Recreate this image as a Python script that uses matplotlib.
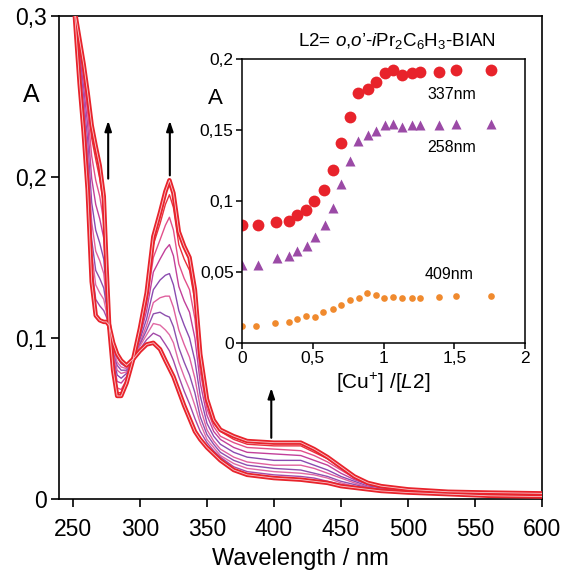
import matplotlib
matplotlib.use("Agg")
import matplotlib.pyplot as plt

plt.rcParams['font.family'] = ['Liberation Sans', 'DejaVu Sans']
plt.rcParams['mathtext.fontset'] = 'custom'
plt.rcParams['mathtext.rm'] = 'Liberation Sans'
plt.rcParams['mathtext.it'] = 'Liberation Sans:italic'

# ---------------- main spectra data ----------------
wl = [251, 255, 258, 261, 264, 267, 270, 273, 275, 277, 280, 283, 286, 290, 295,
      300, 305, 310, 315, 319, 322, 325, 329, 333, 337, 341, 345, 350, 355, 360,
      370, 380, 400, 420, 430, 440, 450, 460, 470, 480, 500, 530, 560, 600]

spec_initial = [0.305, 0.258, 0.228, 0.192, 0.135, 0.114, 0.111, 0.110, 0.110, 0.108, 0.097, 0.090, 0.086, 0.083, 0.087,
                0.092, 0.096, 0.097, 0.093, 0.086, 0.081, 0.076, 0.067, 0.058, 0.050, 0.042, 0.037, 0.032, 0.028, 0.024,
                0.018, 0.015, 0.013, 0.012, 0.011, 0.010, 0.008, 0.007, 0.006, 0.005, 0.004, 0.003, 0.002, 0.0015]

spec_final = [0.305, 0.285, 0.270, 0.252, 0.232, 0.219, 0.207, 0.188, 0.145, 0.108, 0.080, 0.064, 0.064, 0.072, 0.087,
              0.106, 0.128, 0.163, 0.178, 0.191, 0.198, 0.190, 0.166, 0.157, 0.150, 0.130, 0.090, 0.062, 0.049, 0.043,
              0.039, 0.036, 0.035, 0.035, 0.031, 0.026, 0.020, 0.014, 0.010, 0.008, 0.006, 0.0045, 0.004, 0.0035]

spec_a = [0.305, 0.283, 0.267, 0.247, 0.224, 0.211, 0.199, 0.182, 0.142, 0.108, 0.081, 0.066, 0.066, 0.073, 0.087,
          0.105, 0.125, 0.158, 0.171, 0.183, 0.189, 0.181, 0.158, 0.149, 0.142, 0.123, 0.086, 0.060, 0.047, 0.042,
          0.037, 0.034, 0.033, 0.033, 0.029, 0.025, 0.019, 0.013, 0.010, 0.008, 0.006, 0.004, 0.004, 0.003]

spec_b = [0.305, 0.280, 0.262, 0.240, 0.213, 0.198, 0.188, 0.172, 0.138, 0.108, 0.083, 0.069, 0.068, 0.074, 0.087,
          0.103, 0.122, 0.150, 0.161, 0.170, 0.175, 0.167, 0.146, 0.137, 0.130, 0.112, 0.079, 0.056, 0.045, 0.039,
          0.035, 0.032, 0.031, 0.030, 0.027, 0.023, 0.018, 0.013, 0.009, 0.007, 0.006, 0.004, 0.0036, 0.0031]

spec_c = [0.305, 0.276, 0.256, 0.232, 0.199, 0.183, 0.174, 0.162, 0.133, 0.108, 0.086, 0.073, 0.072, 0.076, 0.087,
          0.101, 0.117, 0.141, 0.149, 0.155, 0.158, 0.151, 0.132, 0.123, 0.116, 0.100, 0.072, 0.052, 0.042, 0.037,
          0.032, 0.029, 0.028, 0.027, 0.024, 0.021, 0.016, 0.012, 0.009, 0.007, 0.005, 0.004, 0.0033, 0.0028]

spec_d = [0.305, 0.272, 0.249, 0.222, 0.184, 0.167, 0.159, 0.149, 0.128, 0.108, 0.089, 0.077, 0.075, 0.078, 0.087,
          0.099, 0.112, 0.130, 0.136, 0.139, 0.140, 0.133, 0.117, 0.108, 0.100, 0.086, 0.064, 0.047, 0.039, 0.034,
          0.029, 0.026, 0.024, 0.024, 0.021, 0.018, 0.014, 0.011, 0.008, 0.007, 0.005, 0.004, 0.003, 0.0025]

spec_e = [0.305, 0.268, 0.244, 0.215, 0.172, 0.154, 0.148, 0.140, 0.123, 0.108, 0.091, 0.080, 0.078, 0.079, 0.087,
          0.097, 0.108, 0.122, 0.125, 0.126, 0.126, 0.119, 0.105, 0.096, 0.088, 0.075, 0.057, 0.043, 0.036, 0.031,
          0.026, 0.023, 0.021, 0.021, 0.019, 0.016, 0.013, 0.010, 0.0075, 0.006, 0.005, 0.0036, 0.0028, 0.0023]

spec_f = [0.305, 0.265, 0.239, 0.208, 0.161, 0.142, 0.137, 0.131, 0.120, 0.108, 0.092, 0.083, 0.080, 0.080, 0.087,
          0.096, 0.105, 0.115, 0.116, 0.114, 0.113, 0.107, 0.094, 0.085, 0.077, 0.066, 0.051, 0.040, 0.034, 0.029,
          0.024, 0.021, 0.019, 0.018, 0.016, 0.014, 0.011, 0.009, 0.007, 0.006, 0.0045, 0.0034, 0.0025, 0.002]

spec_g = [0.305, 0.263, 0.236, 0.203, 0.153, 0.133, 0.128, 0.124, 0.116, 0.108, 0.094, 0.085, 0.082, 0.081, 0.087,
          0.095, 0.102, 0.109, 0.108, 0.105, 0.102, 0.097, 0.085, 0.076, 0.068, 0.058, 0.047, 0.037, 0.032, 0.027,
          0.022, 0.019, 0.017, 0.016, 0.015, 0.013, 0.010, 0.008, 0.0067, 0.0055, 0.0044, 0.0033, 0.0024, 0.0019]

spec_h = [0.305, 0.260, 0.232, 0.197, 0.144, 0.124, 0.120, 0.117, 0.113, 0.108, 0.096, 0.088, 0.084, 0.082, 0.087,
          0.093, 0.099, 0.103, 0.101, 0.096, 0.092, 0.086, 0.076, 0.067, 0.059, 0.050, 0.042, 0.035, 0.030, 0.026,
          0.020, 0.017, 0.015, 0.014, 0.013, 0.011, 0.009, 0.0076, 0.0064, 0.0053, 0.0042, 0.0031, 0.0022, 0.0017]

mid_spectra = [spec_a, spec_b, spec_c, spec_d, spec_e, spec_f, spec_g, spec_h]
mid_colors = ['#e8303e', '#e2508a', '#c2409a', '#8a4cb0', '#df5f9e', '#8d50ae', '#e06aa4', '#a24aa8']

# ---------------- inset data ----------------
ratio_337 = [0, 0.11, 0.24, 0.33, 0.39, 0.45, 0.51, 0.58, 0.64, 0.70, 0.76, 0.82, 0.89, 0.95,
             1.01, 1.07, 1.13, 1.20, 1.26, 1.39, 1.51, 1.76]
abs_337 = [0.083, 0.083, 0.085, 0.086, 0.090, 0.094, 0.100, 0.108, 0.122, 0.141, 0.159, 0.176, 0.179, 0.184,
           0.190, 0.192, 0.189, 0.190, 0.191, 0.191, 0.192, 0.192]

ratio_258 = [0, 0.11, 0.245, 0.33, 0.39, 0.46, 0.515, 0.59, 0.64, 0.70, 0.76, 0.82, 0.89, 0.95,
             1.01, 1.07, 1.13, 1.20, 1.26, 1.39, 1.51, 1.76]
abs_258 = [0.055, 0.055, 0.060, 0.061, 0.065, 0.068, 0.075, 0.083, 0.095, 0.112, 0.128, 0.1425, 0.1465, 0.149,
           0.1535, 0.154, 0.152, 0.1535, 0.1535, 0.1535, 0.154, 0.154]

ratio_409 = [0, 0.10, 0.23, 0.33, 0.39, 0.45, 0.515, 0.575, 0.64, 0.70, 0.76, 0.83, 0.88, 0.95,
             1.005, 1.07, 1.13, 1.20, 1.26, 1.39, 1.51, 1.76]
abs_409 = [0.012, 0.012, 0.014, 0.015, 0.017, 0.019, 0.018, 0.0216, 0.024, 0.027, 0.030, 0.032, 0.035, 0.034,
           0.032, 0.0326, 0.032, 0.032, 0.032, 0.0326, 0.033, 0.033]

main_xticks = [250, 300, 350, 400, 450, 500, 550, 600]
main_yticks = [0, 0.1, 0.2, 0.3]
main_ylabels = ['0', '0,1', '0,2', '0,3']
inset_xticks = [0, 0.5, 1, 1.5, 2]
inset_xlabels = ['0', '0,5', '1', '1,5', '2']
inset_yticks = [0, 0.05, 0.1, 0.15, 0.2]
inset_ylabels = ['0', '0,05', '0,1', '0,15', '0,2']

RED = '#e8232b'

fig = plt.figure(figsize=(5.62, 5.71), dpi=100)
ax = fig.add_axes([59/562, 1-499/571, 483/562, 483/571])

for s, c in zip(mid_spectra, mid_colors):
    ax.plot(wl, s, color=c, lw=1.0, zorder=2)
for s in (spec_initial, spec_final):
    ax.plot(wl, s, color=RED, lw=3.2, zorder=3, solid_joinstyle='round')
    ax.plot(wl, s, color='#f7c6cc', lw=0.6, zorder=4)

ax.set_xlim(239.6, 600)
ax.set_ylim(0, 0.3)
ax.set_xticks(main_xticks)
ax.set_xticklabels([str(v) for v in main_xticks])
ax.set_yticks(main_yticks)
ax.set_yticklabels(main_ylabels)
ax.tick_params(direction='out', length=6, width=1.2, labelsize=16.5, pad=3)
ax.tick_params(axis='x', pad=8)
for sp in ax.spines.values():
    sp.set_linewidth(1.2)
ax.set_xlabel('Wavelength / nm', fontsize=17, labelpad=5)
fig.text(31/562, 1-95/571, 'A', fontsize=18, ha='center', va='center')

arrow_kw = dict(arrowstyle='-|>,head_length=0.6,head_width=0.2', lw=1.5, color='black', shrinkA=0, shrinkB=0)
ax.annotate('', xy=(276.3, 0.235), xytext=(276.3, 0.199), arrowprops=arrow_kw)
ax.annotate('', xy=(322.3, 0.235), xytext=(322.3, 0.201), arrowprops=arrow_kw)
ax.annotate('', xy=(398, 0.069), xytext=(398, 0.038), arrowprops=arrow_kw)

# ---------------- inset ----------------
ins = fig.add_axes([242/562, 1-343/571, 283/562, 284/571])
ins.plot(ratio_337, abs_337, 'o', color=RED, ms=8.5, mec='none')
ins.plot(ratio_258, abs_258, '^', color='#9b4aa6', ms=6.5, mec='none')
ins.plot(ratio_409, abs_409, 'o', color='#f08a2e', ms=4.8, mec='none')
ins.set_xlim(0, 2)
ins.set_ylim(0, 0.2)
ins.set_xticks(inset_xticks)
ins.set_xticklabels(inset_xlabels)
ins.set_yticks(inset_yticks)
ins.set_yticklabels(inset_ylabels)
ins.tick_params(direction='out', length=4, width=1.1, labelsize=12.5, pad=2)
for sp in ins.spines.values():
    sp.set_linewidth(1.1)
ins.set_xlabel(r'[Cu$^{+}$] /[$\mathit{L2}$]', fontsize=15, labelpad=3)
fig.text(215/562, 1-98/571, 'A', fontsize=16, ha='center', va='center')
ins.text(1.48, 0.175, '337nm', fontsize=11.5, ha='center', va='center')
ins.text(1.48, 0.138, '258nm', fontsize=11.5, ha='center', va='center')
ins.text(1.46, 0.048, '409nm', fontsize=11.5, ha='center', va='center')
fig.text(397/562, 1-41/571, "L2= $\\mathit{o}$,$\\mathit{o}$\u2019-$\\mathit{i}$Pr$_{2}$C$_{6}$H$_{3}$-BIAN",
         fontsize=13.5, ha='center', va='center')

fig.savefig('out.png', dpi=100)
